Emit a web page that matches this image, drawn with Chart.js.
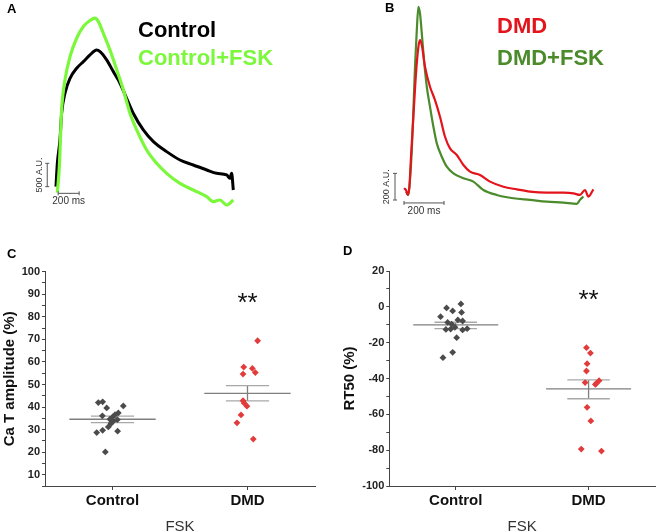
<!DOCTYPE html>
<html>
<head>
<meta charset="utf-8">
<script src="https://cdn.jsdelivr.net/npm/chart.js@4.4.0/dist/chart.umd.min.js"></script>
<style>
  html, body { margin: 0; padding: 0; background: #fff; }
  body { width: 659px; height: 531px; position: relative; overflow: hidden; font-family: "Liberation Sans", Arial, sans-serif; }
  canvas { position: absolute; }
  .lbl { position: absolute; font-weight: bold; white-space: nowrap; line-height: 1; }
</style>
</head>
<body>
<canvas id="traceA" width="330" height="220" style="left:0;top:0"></canvas>
<canvas id="traceB" width="329" height="220" style="left:330px;top:0"></canvas>
<canvas id="ampChart" width="330" height="281" style="left:0;top:250px"></canvas>
<canvas id="rtChart" width="329" height="281" style="left:330px;top:250px"></canvas>

<div class="lbl" style="left:7px;top:2px;font-size:13px">A</div>
<div class="lbl" style="left:385px;top:1px;font-size:13px">B</div>
<div class="lbl" style="left:7px;top:247px;font-size:13px">C</div>
<div class="lbl" style="left:343px;top:244px;font-size:13px">D</div>

<div class="lbl" style="left:138px;top:19px;font-size:22px;color:#000">Control</div>
<div class="lbl" style="left:138px;top:47px;font-size:22px;color:#7cf83c">Control+FSK</div>
<div class="lbl" style="left:497px;top:15px;font-size:22px;color:#e3141b">DMD</div>
<div class="lbl" style="left:497px;top:47px;font-size:22px;color:#4b8b2b">DMD+FSK</div>

<script>
// ---- traces (ms, A.U.) ----
const ctrlT = [-13, 0, 25, 41, 73, 121, 184, 248, 311, 374, 407, 470, 533, 597, 660, 723, 819, 915, 1041, 1168, 1295, 1423, 1517, 1613, 1644, 1660, 1676];
const ctrlV = [129, 629, 1129, 1700, 2129, 2450, 2664, 2807, 2950, 3057, 3021, 2843, 2593, 2343, 2021, 1700, 1343, 1093, 879, 700, 593, 486, 414, 379, 307, 414, 57];
const ctrlFskT = [0, 19, 41, 73, 121, 184, 248, 311, 358, 391, 438, 501, 566, 629, 692, 756, 851, 946, 1041, 1168, 1295, 1423, 1486, 1549, 1613, 1676];
const ctrlFskV = [0, 557, 1771, 2414, 2914, 3307, 3557, 3686, 3736, 3664, 3414, 3057, 2629, 2200, 1700, 1343, 914, 629, 414, 200, 57, -86, -193, -157, -264, -157];

const dmdT = [-22, -12, -3, 5, 13, 25, 38, 50, 58, 67, 83, 108, 133, 158, 183, 208, 242, 275, 308, 358, 408, 475, 542, 608, 692, 775, 825, 858, 883, 900, 925];
const dmdV = [50, 37, 0, 62, 287, 587, 912, 1112, 1162, 1125, 962, 812, 712, 587, 437, 350, 300, 225, 175, 150, 100, 62, 42, 25, 17, 17, 12, 0, 37, -12, 42];
const dmdFskT = [-12, 0, 8, 17, 25, 33, 42, 50, 58, 67, 78, 92, 108, 125, 142, 167, 192, 225, 275, 325, 375, 442, 525, 608, 692, 775, 842, 858, 875];
const dmdFskV = [25, 0, 112, 337, 637, 962, 1237, 1412, 1362, 1212, 1012, 812, 662, 512, 387, 287, 212, 162, 125, 100, 37, 0, -25, -37, -50, -57, -67, -37, -12];

// ---- scatter panels ----
const CATS = ['Control', 'DMD'];

const ampCtrlX = [0.395, 0.427, 0.457, 0.425, 0.580, 0.543, 0.519, 0.501, 0.481, 0.536, 0.506, 0.489, 0.469, 0.427, 0.383, 0.538, 0.447];
const ampCtrl  = [42.0, 42.3, 39.6, 36.1, 40.5, 37.4, 36.6, 35.6, 34.6, 34.4, 33.8, 32.7, 31.2, 29.7, 28.7, 29.3, 20.1];
const ampDmdX  = [1.575, 1.472, 1.536, 1.558, 1.467, 1.467, 1.476, 1.496, 1.452, 1.422, 1.543];
const ampDmd   = [69.4, 57.7, 57.1, 55.3, 54.6, 42.8, 41.7, 40.4, 36.5, 33.0, 25.8];
const ampMean  = [34.6, 46.1];
const ampSemHi = [36.0, 49.5];
const ampSemLo = [33.1, 42.7];

const rtCtrlX = [0.539, 0.431, 0.477, 0.544, 0.386, 0.516, 0.552, 0.439, 0.469, 0.494, 0.426, 0.462, 0.552, 0.586, 0.507, 0.477, 0.404];
const rtCtrl  = [1.6, -0.6, -2.3, -3.1, -5.5, -7.3, -7.9, -8.7, -9.6, -11.4, -12.6, -12.4, -12.9, -12.2, -17.2, -25.4, -28.4];
const rtDmdX  = [1.484, 1.514, 1.489, 1.484, 1.474, 1.579, 1.559, 1.551, 1.489, 1.517, 1.445, 1.597];
const rtDmd   = [-22.8, -25.8, -31.7, -35.8, -42.3, -41.2, -42.7, -43.3, -56.1, -63.7, -79.4, -80.5];
const rtMean  = [-10.1, -45.8];
const rtSemHi = [-8.6, -40.8];
const rtSemLo = [-12.2, -51.3];

const FONT = '"Liberation Sans", Arial, sans-serif';
Chart.defaults.font.family = FONT;
Chart.defaults.animation = false;

// scale bar drawn from data units through the chart scales
function scaleBar(bar) {
  return {
    id: 'scaleBar',
    afterDatasetsDraw(chart) {
      const { ctx, scales: { x, y } } = chart;
      const vx = x.getPixelForValue(bar.vt);
      const vy0 = y.getPixelForValue(bar.v0), vy1 = y.getPixelForValue(bar.v1);
      const hy = y.getPixelForValue(bar.hv);
      const hx0 = x.getPixelForValue(bar.h0), hx1 = x.getPixelForValue(bar.h1);
      ctx.save();
      ctx.strokeStyle = '#555';
      ctx.lineWidth = 1;
      ctx.beginPath();
      ctx.moveTo(vx, vy0); ctx.lineTo(vx, vy1);
      ctx.moveTo(vx - 2, vy0); ctx.lineTo(vx + 2, vy0);
      ctx.moveTo(vx - 2, vy1); ctx.lineTo(vx + 2, vy1);
      ctx.moveTo(hx0, hy); ctx.lineTo(hx1, hy);
      ctx.moveTo(hx0, hy - 2); ctx.lineTo(hx0, hy + 2);
      ctx.moveTo(hx1, hy - 2); ctx.lineTo(hx1, hy + 2);
      ctx.stroke();
      ctx.fillStyle = '#333';
      ctx.font = '10px ' + FONT;
      ctx.textAlign = 'center';
      ctx.textBaseline = 'middle';
      ctx.fillText(bar.hLabel, (hx0 + hx1) / 2, hy + 8);
      ctx.translate(vx - 8, (vy0 + vy1) / 2);
      ctx.rotate(-Math.PI / 2);
      ctx.font = '9px ' + FONT;
      ctx.fillText(bar.vLabel, 0, 0);
      ctx.restore();
    }
  };
}

function traceChart(id, xRange, yRange, series, bar) {
  new Chart(document.getElementById(id), {
    type: 'line',
    data: {
      datasets: series.map(s => ({
        data: s.t.map((t, i) => ({ x: t, y: s.v[i] })),
        borderColor: s.color,
        borderWidth: s.width,
        pointRadius: 0,
        cubicInterpolationMode: 'monotone',
        fill: false
      }))
    },
    options: {
      responsive: false,
      events: [],
      layout: { padding: 0 },
      plugins: { legend: { display: false }, tooltip: { enabled: false } },
      scales: {
        x: { type: 'linear', display: false, min: xRange[0], max: xRange[1] },
        y: { display: false, min: yRange[0], max: yRange[1] }
      }
    },
    plugins: [scaleBar(bar)]
  });
}

traceChart('traceA', [-546, 2597], [-585, 4126], [
  { t: ctrlFskT, v: ctrlFskV, color: '#7cf83c', width: 3.2 },
  { t: ctrlT, v: ctrlV, color: '#000000', width: 3 }
], { vt: -96, v0: 129, v1: 629, vLabel: '500 A.U.', hv: -14, h0: 8, h1: 208, hLabel: '200 ms' });

traceChart('traceB', [-392, 1253], [-188, 1463], [
  { t: dmdT, v: dmdV, color: '#e3141b', width: 2.2 },
  { t: dmdFskT, v: dmdFskV, color: '#4b8b2b', width: 2.2 }
], { vt: -67, v0: 162, v1: -38, vLabel: '200 A.U.', hv: -60, h0: -22, h1: 178, hLabel: '200 ms' });

const MEAN_HALF = 0.32;
const CAP_HALF = 0.16;

function stars(pos) {
  return {
    id: 'stars',
    afterDatasetsDraw(chart) {
      const { ctx, scales: { x, y } } = chart;
      ctx.save();
      ctx.fillStyle = '#111';
      ctx.font = '26px ' + FONT;
      ctx.textAlign = 'center';
      ctx.textBaseline = 'middle';
      ctx.fillText('**', x.getPixelForValue(pos.x), y.getPixelForValue(pos.y) + 6);
      ctx.restore();
    }
  };
}

function dotPanel(id, cfg) {
  const seg = (x0, x1, y0, y1, color) => ({
    type: 'line', data: [{ x: x0, y: y0 }, { x: x1, y: y1 }],
    borderColor: color, borderWidth: 1.3, pointRadius: 0, order: 2
  });
  const ds = [];
  cfg.mean.forEach((m, i) => {
    const c = i + 0.5;
    ds.push(seg(c - MEAN_HALF, c + MEAN_HALF, m, m, '#7f7f7f'));
    ds.push(seg(c - CAP_HALF, c + CAP_HALF, cfg.hi[i], cfg.hi[i], '#a8a8a8'));
    ds.push(seg(c - CAP_HALF, c + CAP_HALF, cfg.lo[i], cfg.lo[i], '#a8a8a8'));
    ds.push(seg(c, c, cfg.lo[i], cfg.hi[i], '#7f7f7f'));
  });
  ds.push({
    data: cfg.ctrlX.map((x, i) => ({ x, y: cfg.ctrl[i] })),
    backgroundColor: '#4b4b4b', pointStyle: 'rectRot', pointRadius: 3.4, borderWidth: 0, order: 0
  });
  ds.push({
    data: cfg.dmdX.map((x, i) => ({ x, y: cfg.dmd[i] })),
    backgroundColor: '#e23b3b', pointStyle: 'rectRot', pointRadius: 3.4, borderWidth: 0, order: 0
  });

  new Chart(document.getElementById(id), {
    type: 'scatter',
    data: { datasets: ds },
    options: {
      responsive: false,
      events: [],
      layout: { padding: cfg.padding },
      plugins: { legend: { display: false }, tooltip: { enabled: false } },
      scales: {
        x: {
          type: 'linear', min: 0, max: 2,
          afterBuildTicks: s => { s.ticks = [{ value: 0.5 }, { value: 1.5 }]; },
          afterFit: s => { s.height = 45; },
          ticks: {
            callback: v => CATS[Math.floor(v)],
            font: { size: 15, weight: 'bold' }, color: '#111', padding: 2,
            autoSkip: false, maxRotation: 0
          },
          grid: { drawOnChartArea: false, drawTicks: true, tickLength: 4, color: '#444' },
          border: { color: '#444', width: 1 },
          title: {
            display: true, text: 'FSK', color: '#333',
            font: { size: 15, weight: 'normal', lineHeight: 0.6 }, padding: { top: 0, bottom: 0 }
          }
        },
        y: {
          min: cfg.yMin, max: cfg.yMax,
          afterFit: s => { s.width = cfg.axisWidth; },
          ticks: {
            stepSize: cfg.minorStep, autoSkip: false,
            callback: v => (v % cfg.labelStep === 0 ? v : ''),
            font: { size: 11, weight: 'bold' }, color: '#222', padding: 2
          },
          grid: { drawOnChartArea: false, drawTicks: true, tickLength: 3, color: '#444' },
          border: { color: '#444', width: 1 },
          title: {
            display: true, text: cfg.yTitle, color: '#111',
            font: { size: 15, weight: 'bold' }, padding: { top: cfg.titlePad, bottom: 0 }
          }
        }
      }
    },
    plugins: [stars(cfg.star)]
  });
}

dotPanel('ampChart', {
  ctrlX: ampCtrlX, ctrl: ampCtrl, dmdX: ampDmdX, dmd: ampDmd,
  mean: ampMean, hi: ampSemHi, lo: ampSemLo,
  yMin: 5, yMax: 100, minorStep: 5, labelStep: 10,
  yTitle: 'Ca T amplitude (%)', titlePad: 1, axisWidth: 45,
  padding: { left: 0, right: 15, top: 21.7, bottom: 0 },
  star: { x: 1.5, y: 88.3 }
});

dotPanel('rtChart', {
  ctrlX: rtCtrlX, ctrl: rtCtrl, dmdX: rtDmdX, dmd: rtDmd,
  mean: rtMean, hi: rtSemHi, lo: rtSemLo,
  yMin: -100, yMax: 20, minorStep: 10, labelStep: 20,
  yTitle: 'RT50 (%)', titlePad: 11, axisWidth: 59.3,
  padding: { left: 0, right: 4, top: 21, bottom: 0 },
  star: { x: 1.5, y: 6.6 }
});
</script>
</body>
</html>
